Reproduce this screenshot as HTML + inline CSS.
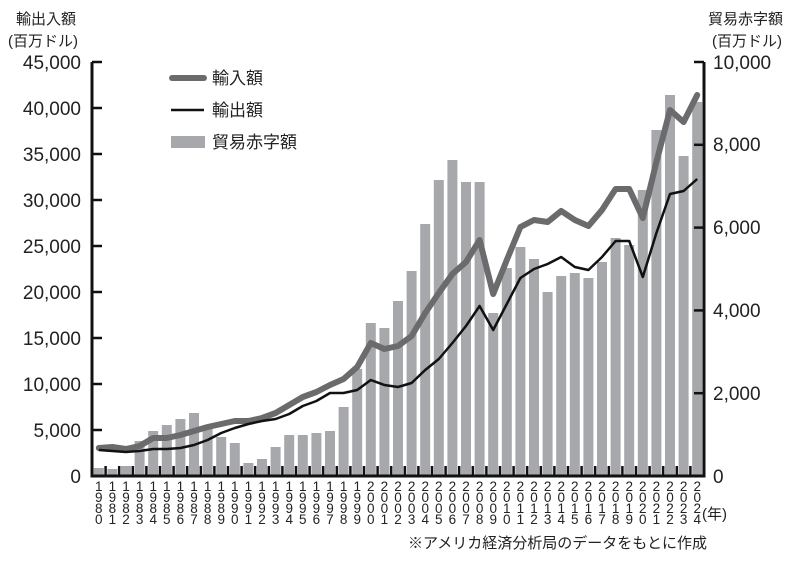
<!DOCTYPE html>
<html><head><meta charset="utf-8"><style>
html,body{margin:0;padding:0;background:#fff}
svg{display:block;font-family:"Liberation Sans","Noto Sans CJK JP",sans-serif}
</style></head><body>
<svg id="c" width="800" height="569" viewBox="0 0 800 569" xmlns="http://www.w3.org/2000/svg">
<g id="bars" fill="#a7a8ac"></g>
<g id="ticks" stroke="#111" stroke-width="2.5"></g>
<polyline id="imp" fill="none" stroke="#6b6b6d" stroke-width="6" stroke-linejoin="round" stroke-linecap="round"/>
<polyline id="exp" fill="none" stroke="#111" stroke-width="2.5" stroke-linejoin="round"/>
<path d="M92,62 V476 H704 V62" fill="none" stroke="#111" stroke-width="3"/>
<g font-size="19" fill="#222" text-anchor="end">
<text x="81" y="483">0</text><text x="81" y="437">5,000</text><text x="81" y="391">10,000</text>
<text x="81" y="345">15,000</text><text x="81" y="299">20,000</text><text x="81" y="253">25,000</text>
<text x="81" y="207">30,000</text><text x="81" y="161">35,000</text><text x="81" y="115">40,000</text><text x="81" y="69">45,000</text>
</g>
<g font-size="19" fill="#222">
<text x="713" y="483">0</text><text x="713" y="400">2,000</text><text x="713" y="317">4,000</text>
<text x="713" y="234">6,000</text><text x="713" y="151">8,000</text><text x="713" y="69">10,000</text>
</g>
<g font-size="15" fill="#222">
<text x="16" y="24">輸出入額</text><text x="8" y="46">(百万ドル)</text>
<text x="708" y="24">貿易赤字額</text><text x="712" y="46">(百万ドル)</text>
<text x="702" y="519">(年)</text>
<text x="408" y="548">※アメリカ経済分析局のデータをもとに作成</text>
</g>
<line x1="172" y1="78" x2="204" y2="78" stroke="#6b6b6d" stroke-width="6" stroke-linecap="round"/>
<line x1="171" y1="110" x2="204" y2="110" stroke="#111" stroke-width="2.5"/>
<rect x="171" y="136" width="34" height="12" fill="#a7a8ac"/>
<g font-size="17" fill="#222">
<text x="212" y="84">輸入額</text><text x="212" y="116">輸出額</text><text x="212" y="148">貿易赤字額</text>
</g>
<g id="yrs" font-size="13.5" fill="#222" text-anchor="middle"></g>
</svg>
<script>
var bars=[468,469,466,441,431,425,419,413,428,437,443,463,459,447,435,435,433,431,407,369,323,328,301,271,224,180,160,182,182,313,268,247,259,292,276,273,278,262,238,245,190,130,95,156,102];
var imp=[448,447,449,446,438,438,435,431,427,424,421,421,418,413,405,397,392,385,379,367,343,349,346,336,313,293,274,262,240,294,260,227,220,222,211,220,226,210,189,189,218,162,110,122,95];
var ex=[450,451,452,451,449,449,448,445,440,433,428,424,421,419,414,406,401,393,393,390,380,385,387,383,370,359,343,326,306,330,304,278,269,264,257,267,270,257,241,241,277,233,194,191,179];
var ns="http://www.w3.org/2000/svg",b=document.getElementById('bars'),t=document.getElementById('ticks'),y=document.getElementById('yrs');
var pi=[],pe=[];
for(var i=0;i<45;i++){var cx=98.8+13.6*i;
var r=document.createElementNS(ns,'rect');r.setAttribute('x',cx-5);r.setAttribute('width',10);r.setAttribute('y',bars[i]);r.setAttribute('height',476-bars[i]);b.appendChild(r);
pi.push(cx+','+imp[i]);pe.push(cx+','+ex[i]);
var yr=String(1980+i);for(var k=0;k<4;k++){var tx=document.createElementNS(ns,'text');tx.setAttribute('x',cx);tx.setAttribute('y',491+k*11);tx.textContent=yr[k];y.appendChild(tx);}
if(i>0){var l=document.createElementNS(ns,'line');var xx=92+13.6*i;l.setAttribute('x1',xx);l.setAttribute('x2',xx);l.setAttribute('y1',466);l.setAttribute('y2',476);t.appendChild(l);}
}
for(var j=1;j<=9;j++){var l=document.createElementNS(ns,'line');var yy=476-j*46;l.setAttribute('x1',92);l.setAttribute('x2',102);l.setAttribute('y1',yy);l.setAttribute('y2',yy);t.appendChild(l);}
for(var j=1;j<=5;j++){var l=document.createElementNS(ns,'line');var yy=476-j*82.8;l.setAttribute('x1',694);l.setAttribute('x2',704);l.setAttribute('y1',yy);l.setAttribute('y2',yy);t.appendChild(l);}
document.getElementById('imp').setAttribute('points',pi.join(' '));
document.getElementById('exp').setAttribute('points',pe.join(' '));
</script>
</body></html>
